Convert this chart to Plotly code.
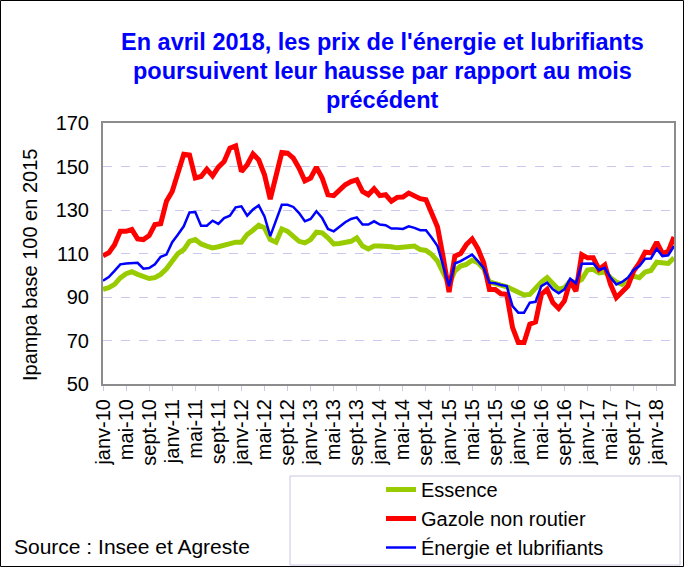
import plotly.graph_objects as go

MONTH_NAMES = ["janv", "févr", "mars", "avr", "mai", "juin",
               "juil", "août", "sept", "oct", "nov", "déc"]
months = [f"{MONTH_NAMES[m]}-{y % 100:02d}" for y in range(2010, 2019) for m in range(12)][:100]

essence = [93.5, 94.3, 95.8, 98.8, 100.7, 101.6, 100.4, 99.3, 98.5, 98.9,
           100.4, 103.0, 106.5, 110.0, 111.8, 115.6, 116.4, 114.4, 113.4, 112.6,
           113.1, 113.7, 114.1, 115.2, 115.2, 118.7, 120.7, 123.0, 121.8, 116.4,
           115.2, 121.3, 120.2, 118.2, 115.6, 114.9, 116.4, 119.8, 119.5, 117.2,
           114.4, 114.6, 114.9, 115.6, 117.2, 113.4, 112.1, 113.4, 113.4, 113.4,
           113.1, 112.6, 112.9, 113.1, 113.4, 111.8, 111.4, 109.5, 106.5, 101.1,
           95.8, 101.9, 104.2, 105.0, 106.9, 105.8, 103.0, 96.9, 96.3, 95.8,
           94.7, 93.5, 92.4, 90.9, 91.2, 94.3, 96.9, 98.9, 95.8, 93.5,
           94.3, 97.3, 96.6, 98.1, 102.4, 102.7, 101.1, 101.5, 98.9, 96.9,
           95.8, 98.1, 99.6, 98.9, 101.5, 102.2, 106.0, 105.7, 105.4, 108.0]

gazole = [109.0, 110.3, 114.0, 120.2, 120.2, 121.0, 116.7, 116.4, 118.2, 123.3,
          123.7, 134.0, 138.5, 146.2, 155.6, 155.3, 144.7, 145.4, 148.8, 145.7,
          149.7, 152.3, 158.4, 159.5, 147.7, 150.8, 155.8, 153.0, 146.2, 135.0,
          146.2, 156.4, 156.1, 153.8, 149.2, 143.4, 144.7, 149.7, 144.7, 137.0,
          136.6, 138.9, 141.6, 143.1, 143.9, 138.5, 137.0, 139.8, 136.6, 137.0,
          134.0, 135.8, 136.0, 137.8, 136.6, 135.2, 134.7, 128.6, 122.2, 108.0,
          92.3, 108.8, 110.0, 114.1, 116.7, 112.2, 105.7, 93.5, 93.5, 91.5,
          91.2, 76.0, 69.1, 69.1, 77.5, 78.5, 91.2, 93.5, 87.4, 84.7,
          88.2, 97.3, 92.7, 109.5, 108.0, 108.0, 102.7, 104.7, 95.8, 89.7,
          92.3, 95.0, 101.9, 105.7, 110.6, 110.3, 115.2, 110.0, 111.0, 117.6]

energie = [97.5, 99.2, 102.0, 105.0, 105.4, 105.4, 105.7, 103.0, 103.3, 105.0,
           108.5, 109.5, 115.2, 118.7, 122.5, 128.9, 129.1, 122.8, 122.8, 125.1,
           123.6, 126.3, 127.4, 131.2, 131.7, 127.4, 130.2, 132.1, 127.0, 118.0,
           124.8, 132.4, 132.4, 131.4, 128.6, 124.8, 125.9, 129.4, 126.3, 121.3,
           120.2, 122.5, 124.4, 125.9, 126.6, 123.3, 123.3, 124.8, 123.3, 123.0,
           121.5, 121.5, 121.3, 122.5, 121.8, 120.7, 120.7, 117.2, 113.4, 104.2,
           95.0, 105.4, 106.5, 108.0, 109.5, 106.5, 103.4, 96.6, 96.3, 95.5,
           95.0, 85.8, 82.8, 82.8, 87.4, 87.8, 95.0, 96.6, 93.5, 91.7,
           93.5, 98.4, 96.3, 105.3, 105.4, 105.4, 102.4, 103.4, 98.9, 95.8,
           96.9, 98.9, 102.4, 104.2, 107.6, 107.7, 112.1, 108.8, 109.2, 113.4]

series_names = ["Essence", "Gazole non routier", "Énergie et lubrifiants"]
series_colors = ["#99CC00", "#FF0000", "#0000FF"]
series_widths = [5, 5, 2.5]

title_lines = ["En avril 2018, les prix de l'énergie et lubrifiants",
               "poursuivent leur hausse par rapport au mois",
               "précédent"]
y_title = "Ipampa base 100 en 2015"
source_text = "Source : Insee et Agreste"

W, H = 684, 567
L, R, T, B = 103, 10, 123, 183
PW, PH = W - L - R, H - T - B


def px(xp):
    return (xp - L) / PW


def py(yp):
    return (H - B - yp) / PH


FONT = "Liberation Sans, Arial, sans-serif"
idx = list(range(len(months)))

fig = go.Figure()
for name, vals, col, w in zip(series_names, [essence, gazole, energie],
                              series_colors, series_widths):
    fig.add_trace(go.Scatter(x=idx, y=vals, mode="lines", name=name,
                             legendgroup=name,
                             line=dict(color=col, width=w)))

tickvals = idx[::4]
ticktext = [months[i] for i in tickvals]

fig.update_layout(
    width=W, height=H,
    margin=dict(l=L, r=R, t=T, b=B, autoexpand=False),
    paper_bgcolor="white", plot_bgcolor="white",
    font=dict(family=FONT, size=20, color="black"),
    showlegend=True,
    legend=dict(x=px(381), y=py(470), xanchor="left", yanchor="top",
                bgcolor="rgba(0,0,0,0)", borderwidth=0,
                font=dict(family=FONT, size=20, color="black"),
                tracegroupgap=2, traceorder="normal",
                itemwidth=30),
    xaxis=dict(range=[0, len(months) - 1], tickmode="array",
               tickvals=tickvals, ticktext=ticktext, tickangle=-90,
               ticks="outside", ticklen=5, tickcolor="#C8C8E8",
               showgrid=False, zeroline=False,
               showline=True, linecolor="#8C8C8C", linewidth=2, mirror=True,
               tickfont=dict(family=FONT, size=20, color="black")),
    yaxis=dict(range=[50, 170], dtick=20, tick0=50,
               showgrid=True, gridcolor="#C8C8F0", griddash="dash", gridwidth=1,
               zeroline=False, ticks="", ticklabelstandoff=8,
               showline=True, linecolor="#8C8C8C", linewidth=2, mirror=True,
               tickfont=dict(family=FONT, size=20, color="black")),
)

title_y = [42, 71, 100]
for line, yy in zip(title_lines, title_y):
    fig.add_annotation(text=f"<b>{line}</b>", x=px(382), y=py(yy),
                       xref="paper", yref="paper", showarrow=False,
                       xanchor="center", yanchor="middle",
                       font=dict(family=FONT, size=23.5, color="#0000FF"))

fig.add_annotation(text=y_title, x=px(30), y=py(265), xref="paper", yref="paper",
                   showarrow=False, textangle=-90, xanchor="center", yanchor="middle",
                   font=dict(family=FONT, size=20, color="black"))

fig.add_annotation(text=source_text, x=px(12), y=py(546), xref="paper", yref="paper",
                   showarrow=False, xanchor="left", yanchor="middle",
                   font=dict(family=FONT, size=21, color="black"))

# legend frame
fig.add_shape(type="rect", xref="paper", yref="paper",
              x0=px(290), x1=px(680), y0=py(565), y1=py(476),
              line=dict(color="#C8C8E0", width=1), fillcolor="rgba(0,0,0,0)")
# outer frame
fig.add_shape(type="rect", xref="paper", yref="paper",
              x0=px(0.5), x1=px(683.5), y0=py(566.5), y1=py(0.5),
              line=dict(color="black", width=1), fillcolor="rgba(0,0,0,0)")

fig.write_html("out.html", config={"displayModeBar": False},
               post_script="document.body.style.margin='0';document.body.style.overflow='hidden';")
